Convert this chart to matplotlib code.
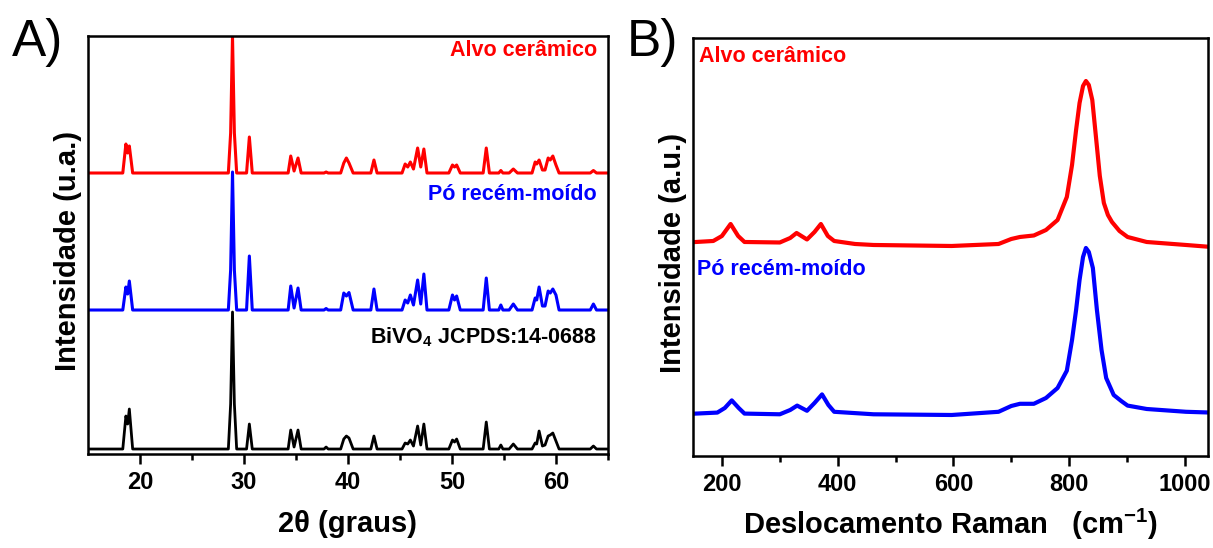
import numpy as np
import matplotlib
matplotlib.use('Agg')
import matplotlib.pyplot as plt

plt.rcParams['font.family'] = ['Liberation Sans', 'DejaVu Sans']
plt.rcParams['mathtext.fontset'] = 'custom'
plt.rcParams['mathtext.rm'] = 'Liberation Sans'
plt.rcParams['mathtext.bf'] = 'Liberation Sans:bold'

# ---- A) DRX, picos (intensidade relativa a cada linha de base)
tt = [15.0,
      18.35, 18.65, 18.82, 18.98, 19.3,
      28.5, 28.72, 28.9, 29.08, 29.3,
      30.25, 30.52, 30.8,
      34.25, 34.5, 34.82, 35.2, 35.5,
      37.7, 37.9, 38.1,
      39.3, 39.6, 39.85, 40.1, 40.5,
      42.2, 42.5, 42.8,
      45.2, 45.5, 45.75, 46.0, 46.3, 46.7, 47.0, 47.3, 47.6,
      49.7, 50.05, 50.25, 50.45, 50.8,
      53.0, 53.3, 53.6,
      54.5, 54.7, 54.9,
      55.5, 55.9, 56.3,
      57.7, 58.0, 58.15, 58.38, 58.7, 58.95, 59.25, 59.45, 59.7, 60.0, 60.3,
      63.3, 63.6, 63.9,
      65.0]
drx_alvo = [0,
            0, 29, 20, 27, 0,
            0, 40, 137, 40, 0,
            0, 36, 0,
            0, 17, 2, 15, 0,
            0, 1, 0,
            0, 10, 15, 10, 0,
            0, 13, 0,
            0, 9, 6, 11, 4, 25, 6, 24, 0,
            0, 8, 6, 8, 0,
            0, 25, 0,
            0, 2.5, 0,
            0, 4, 0,
            0, 11, 9, 13, 3, 3, 15, 13, 17, 8, 0,
            0, 2.5, 0,
            0]
drx_po = [0,
          0, 23, 16, 29, 0,
          0, 40, 138, 40, 0,
          0, 54, 0,
          0, 24, 2, 22, 0,
          0, 1.5, 0,
          0, 17, 14, 17.5, 0,
          0, 21, 0,
          0, 10, 7, 15, 5, 30, 6, 36, 0,
          0, 15, 10, 14, 0,
          0, 32, 0,
          0, 5, 0,
          0, 6, 0,
          0, 12, 10, 23, 4, 4, 19, 17, 21, 15, 0,
          0, 6, 0,
          0]
drx_ref = [0,
           0, 33, 25, 40, 0,
           0, 45, 137, 45, 0,
           0, 25, 0,
           0, 19, 2, 19, 0,
           0, 2, 0,
           0, 10, 13, 11, 0,
           0, 13, 0,
           0, 6, 5, 9, 3, 23, 4, 25, 0,
           0, 9, 7, 10, 0,
           0, 27, 0,
           0, 4, 0,
           0, 5, 0,
           0, 6, 5, 18, 3, 4, 13, 14, 16, 8, 0,
           0, 3, 0,
           0]
off_alvo, off_po, off_ref = 281, 144, 5

# ---- B) Raman
raman_x_alvo = [155, 185, 200, 215, 228, 239, 300, 318, 329, 347, 360, 371, 383, 394,
                430, 462, 597, 678, 700, 715, 739, 760, 780, 796, 805, 812, 818, 824,
                829, 834, 840, 846, 853, 860, 867, 874, 887, 901, 934, 1002, 1046]
raman_y_alvo = [214, 215, 220, 232, 220, 214, 213.5, 218, 223, 216.5, 224, 232, 220, 215,
                212, 211, 210, 212, 217, 219, 220.5, 226, 236, 259, 291, 326, 353, 370,
                375, 371, 356, 321, 280, 253, 241, 234, 225, 219, 214, 211, 209]
raman_x_po = [155, 192, 205, 217, 229, 239, 300, 318, 330, 347, 360, 373, 384, 394,
              462, 597, 678, 700, 715, 739, 760, 780, 796, 805, 812, 818, 824, 829,
              834, 841, 848, 856, 864, 877, 890, 901, 934, 1002, 1046]
raman_y_po = [42.4, 43.4, 48, 55.6, 48, 42.4, 41.7, 46, 50.4, 45.2, 53, 61.6, 51, 44.2,
              41.7, 41, 44.2, 50, 52.2, 52.2, 58, 68, 85.3, 116, 146, 176, 199, 208,
              204, 188, 146, 106, 78, 61, 55, 50.4, 47, 44.2, 43.4]

fig = plt.figure(figsize=(12.13, 5.48), dpi=100)
axA = fig.add_axes([0.0725, 0.1715, 0.4287, 0.7628])
axB = fig.add_axes([0.5713, 0.1679, 0.4246, 0.7628])

tt = np.array(tt)
axA.plot(tt, np.array(drx_alvo) + off_alvo, color='#ff0000', lw=2.2)
axA.plot(tt, np.array(drx_po) + off_po, color='#0000ff', lw=2.2)
axA.plot(tt, np.array(drx_ref) + off_ref, color='black', lw=2.0)
axA.set_xlim(15, 65)
axA.set_ylim(0, 418)
axA.set_xticks([20, 30, 40, 50, 60])
axA.set_xticks([25, 35, 45, 55, 65], minor=True)
axA.set_xlabel('2θ (graus)', fontsize=21, fontweight='bold', labelpad=12)
axA.set_ylabel('Intensidade (u.a.)', fontsize=21, fontweight='bold')
axA.yaxis.set_label_coords(-0.012, 0.485)
axA.text(0.979, 0.966, 'Alvo cerâmico', color='#ff0000', fontsize=15.5, fontweight='bold',
         ha='right', va='center', transform=axA.transAxes)
axA.text(0.979, 0.62, 'Pó recém-moído', color='#0000ff', fontsize=15.5, fontweight='bold',
         ha='right', va='center', transform=axA.transAxes)
axA.text(0.979, 0.28, r'BiVO$_\mathbf{4}$ JCPDS:14-0688', color='black', fontsize=15.5,
         fontweight='bold', ha='right', va='center', transform=axA.transAxes)

axB.plot(raman_x_alvo, raman_y_alvo, color='#ff0000', lw=3)
axB.plot(raman_x_po, raman_y_po, color='#0000ff', lw=3)
axB.set_xlim(150, 1040)
axB.set_ylim(0, 418)
axB.set_xticks([200, 400, 600, 800, 1000])
axB.set_xticks([300, 500, 700, 900], minor=True)
axB.set_xlabel(r'Deslocamento Raman   (cm$^{\mathbf{-1}}$)', fontsize=21, fontweight='bold',
               labelpad=8)
axB.set_ylabel('Intensidade (a.u.)', fontsize=21, fontweight='bold')
axB.yaxis.set_label_coords(-0.012, 0.485)
axB.text(0.012, 0.955, 'Alvo cerâmico', color='#ff0000', fontsize=15.5, fontweight='bold',
         ha='left', va='center', transform=axB.transAxes)
axB.text(0.008, 0.445, 'Pó recém-moído', color='#0000ff', fontsize=15.5, fontweight='bold',
         ha='left', va='center', transform=axB.transAxes)

for ax in (axA, axB):
    for s in ax.spines.values():
        s.set_linewidth(1.8)
    ax.set_yticks([])
    ax.tick_params(axis='x', which='major', direction='out', length=7, width=1.8,
                   labelsize=17, pad=5)
    ax.tick_params(axis='x', which='minor', direction='out', length=4, width=1.8)
    for lab in ax.get_xticklabels():
        lab.set_fontweight('bold')

fig.text(0.010, 0.968, 'A)', fontsize=37, va='top', ha='left')
fig.text(0.517, 0.968, 'B)', fontsize=37, va='top', ha='left')

fig.savefig('out.png', dpi=100)
